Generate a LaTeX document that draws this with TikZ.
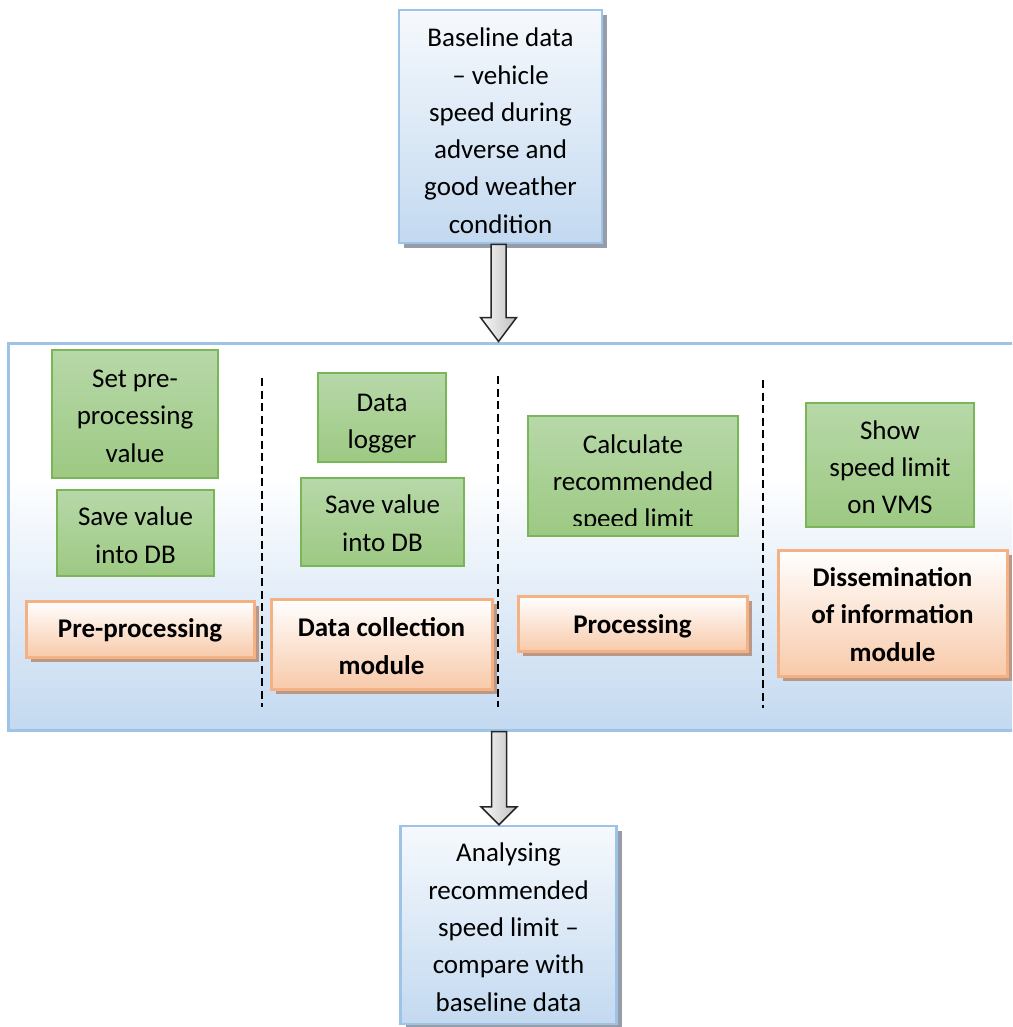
\documentclass[tikz,border=0pt]{standalone}
\usepackage{fontspec}
\setmainfont{Carlito}
\usetikzlibrary{shadows,calc}
\definecolor{bluebd}{RGB}{157,195,230}
\definecolor{bluefill}{RGB}{195,217,240}
\definecolor{greentop}{RGB}{183,216,168}
\definecolor{greenbot}{RGB}{157,201,131}
\definecolor{greenbd}{RGB}{122,182,88}
\definecolor{orangebd}{RGB}{244,177,131}
\definecolor{orangebot}{RGB}{248,202,170}
\definecolor{shadowblue}{RGB}{150,156,168}
\definecolor{shadoworange}{RGB}{186,152,136}
\pgfdeclareverticalshading{bigshade}{100bp}{color(0bp)=(bluefill); color(25bp)=(bluefill); color(58bp)=(white); color(100bp)=(white)}
\newcommand\tx[2][3.5pt]{\raisebox{-#1}[\height][\depth]{\begin{tabular}{@{}c@{}}#2\end{tabular}}}
\begin{document}
\begin{tikzpicture}[x=1pt,y=-1pt,
  every node/.style={font=\fontsize{27}{37.3}\selectfont, align=center, inner sep=0pt},
  bluebox/.style={draw=bluebd, line width=2.5pt, top color=white!85!bluefill, bottom color=bluefill,
    drop shadow={shadow xshift=5pt, shadow yshift=-5pt, fill=shadowblue, opacity=1}},
  bigbox/.style={draw=bluebd, line width=3pt, shading=bigshade},
  greenbox/.style={draw=greenbd, line width=1.5pt, top color=greentop, bottom color=greenbot},
  orangebox/.style={draw=orangebd, line width=3pt, top color=white, bottom color=orangebot,
    drop shadow={shadow xshift=5pt, shadow yshift=-5pt, fill=shadoworange, opacity=1}, font=\fontsize{27}{37.3}\selectfont\bfseries},
  divider/.style={line width=1.8pt, dash pattern=on 8pt off 4.5pt},
  fatarrow/.style={draw=black!85, line width=1.5pt, left color=gray!5, right color=gray!50, line join=miter}
]
\useasboundingbox (0,0) rectangle (1012,1027);
\clip (0,0) rectangle (1012,1027);

% large frame
\node[bigbox, minimum width=1020pt, minimum height=387pt] (big) at (518,536.5) {};

% dividers
\draw[divider] (262,378) -- (262,707);
\draw[divider] (498,376) -- (498,707);
\draw[divider] (763,380) -- (763,708);

% green boxes
\node[greenbox, minimum width=166pt, minimum height=128pt] (g1) at (135,414) {\tx[3.5pt]{Set pre-\\processing\\value}};
\node[greenbox, minimum width=157pt, minimum height=86pt] (g2) at (135.5,533) {\tx[4pt]{Save value\\into DB}};
\node[greenbox, minimum width=128pt, minimum height=89pt] (g3) at (382,417.5) {\tx[5pt]{Data\\logger}};
\node[greenbox, minimum width=163pt, minimum height=88pt] (g4) at (382.5,522) {\tx[3pt]{Save value\\into DB}};
\node[greenbox, minimum width=210pt, minimum height=120pt] (g5) at (633,476) {};
\begin{scope}
  \clip (g5.north west) rectangle ([yshift=11pt]g5.south east);
  \node (g5t) at (633,483) {\tx[0pt]{Calculate\\recommended\\speed limit}};
\end{scope}
\node[greenbox, minimum width=168pt, minimum height=124pt] (g6) at (890,465) {\tx[4pt]{Show\\speed limit\\on VMS}};

% orange boxes
\node[orangebox, minimum width=228pt, minimum height=56pt] (o1) at (140,629) {\tx[1.5pt]{Pre-processing}};
\node[orangebox, minimum width=221pt, minimum height=90pt] (o2) at (381.5,644) {\tx[4pt]{Data collection\\module}};
\node[orangebox, minimum width=229pt, minimum height=55pt] (o3) at (632.5,623.5) {\tx[3pt]{Processing}};
\node[orangebox, minimum width=229pt, minimum height=126pt] (o4) at (892.5,613) {\tx[3.5pt]{Dissemination\\of information\\module}};

% top and bottom boxes
\node[bluebox, minimum width=203pt, minimum height=233pt] (top) at (500.5,126.5)
  {\tx[6pt]{Baseline data\\– vehicle\\speed during\\adverse and\\good weather\\condition}};
\node[bluebox, minimum width=216pt, minimum height=198pt] (bot) at (508.5,925)
  {\tx[4pt]{Analysing\\recommended\\speed limit –\\compare with\\baseline data}};

% block arrows
\coordinate (a1s) at ([xshift=-2pt]top.south);
\coordinate (a1e) at (a1s |- big.north);
\path[fatarrow] ($(a1s)+(-7.5,0)$) -- ($(a1e)+(-7.5,-24)$) -- ($(a1e)+(-18,-24)$) -- (a1e)
  -- ($(a1e)+(18,-24)$) -- ($(a1e)+(7.5,-24)$) -- ($(a1s)+(7.5,0)$) -- cycle;
\coordinate (a2e) at ([xshift=-9.5pt]bot.north);
\coordinate (a2s) at (a2e |- big.south);
\path[fatarrow] ($(a2s)+(-7.5,0)$) -- ($(a2e)+(-7.5,-18)$) -- ($(a2e)+(-18,-18)$) -- (a2e)
  -- ($(a2e)+(18,-18)$) -- ($(a2e)+(7.5,-18)$) -- ($(a2s)+(7.5,0)$) -- cycle;
\end{tikzpicture}
\end{document}
